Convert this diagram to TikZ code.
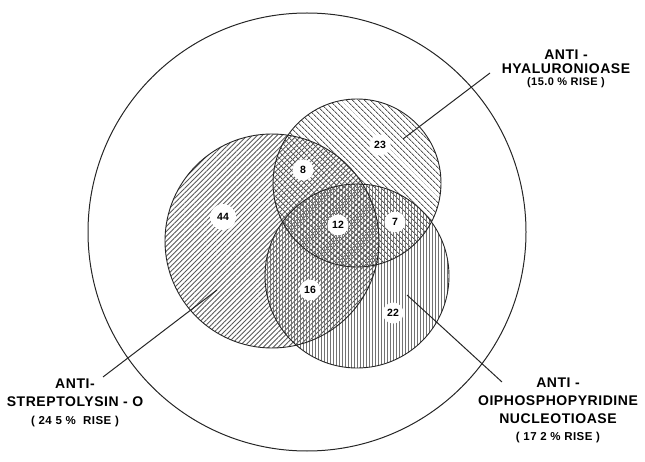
\documentclass[tikz,border=0pt]{standalone}
\usepackage{fontspec}
\setmainfont{Liberation Sans}
\newfontfamily\labelfont[LetterSpace=4]{Liberation Sans}
\usepackage{tikz}
\usetikzlibrary{patterns.meta}

\tikzset{
  ring/.style={draw=black!85, line width=0.9pt},
  bubble/.style={circle, fill=white, inner sep=1pt, minimum size=21pt,
    font=\bfseries\fontsize{10.5}{12}\selectfont},
  tag/.style={font=\labelfont\bfseries\fontsize{14}{18}\selectfont, align=center},
  leader/.style={draw=black!85, line width=1pt}
}

\begin{document}
\begin{tikzpicture}[x=1pt, y=-1pt]
  \useasboundingbox (0,0) rectangle (645,462);

  %% Hatched circles
  \fill[pattern={Lines[angle=45, distance=3.5pt, line width=0.9pt]}, pattern color=black!65]
    (272,241) circle[radius=107pt];
  \fill[pattern={Lines[angle=-45, distance=4pt, line width=0.9pt]}, pattern color=black!65]
    (357,183) circle[radius=84pt];
  \fill[pattern={Lines[angle=90, distance=3pt, line width=0.8pt]}, pattern color=black!55]
    (357,276) circle[radius=92pt];

  %% Outlines
  \draw[ring, line width=1pt] (307,232) circle[radius=219pt];
  \draw[ring] (272,241) circle[radius=107pt];
  \draw[ring] (357,183) circle[radius=84pt];
  \draw[ring] (357,276) circle[radius=92pt];

  %% Counts
  \node[bubble] (n23) at (380,145) {23};
  \node[bubble] (n8)  at (303,170) {8};
  \node[bubble, minimum size=26pt] (n44) at (223,217) {44};
  \node[bubble] (n12) at (338,225) {12};
  \node[bubble] (n7)  at (395,222) {7};
  \node[bubble] (n16) at (310,290) {16};
  \node[bubble] (n22) at (393,313) {22};

  %% Labels
  \node[tag] (hya) at (566,69)
    {ANTI -\\[-4pt]HYALURONIOASE\\[-6pt]{\fontsize{11}{13}\selectfont (15.0 \% RISE )}};
  \node[tag] (strep) at (75,403)
    {ANTI-\\STREPTOLYSIN - O\\{\fontsize{11.5}{13}\selectfont ( 24 5 \% \ RISE )}};
  \node[tag] (dpn) at (558,410)
    {ANTI -\\OIPHOSPHOPYRIDINE\\NUCLEOTIOASE\\[-1pt]{\fontsize{11.5}{13}\selectfont ( 17 2 \% RISE )}};

  %% Leader lines
  \coordinate (hyaIn)   at (403,139);
  \coordinate (hyaOut)  at (490,73);
  \coordinate (strepIn) at (217,290);
  \coordinate (strepOut) at (103,377);
  \coordinate (dpnIn)   at (407,295);
  \coordinate (dpnOut)  at (502,382);
  \draw[leader] (hyaIn) -- (hyaOut);
  \draw[leader] (strepIn) -- (strepOut);
  \draw[leader] (dpnIn) -- (dpnOut);
\end{tikzpicture}
\end{document}
